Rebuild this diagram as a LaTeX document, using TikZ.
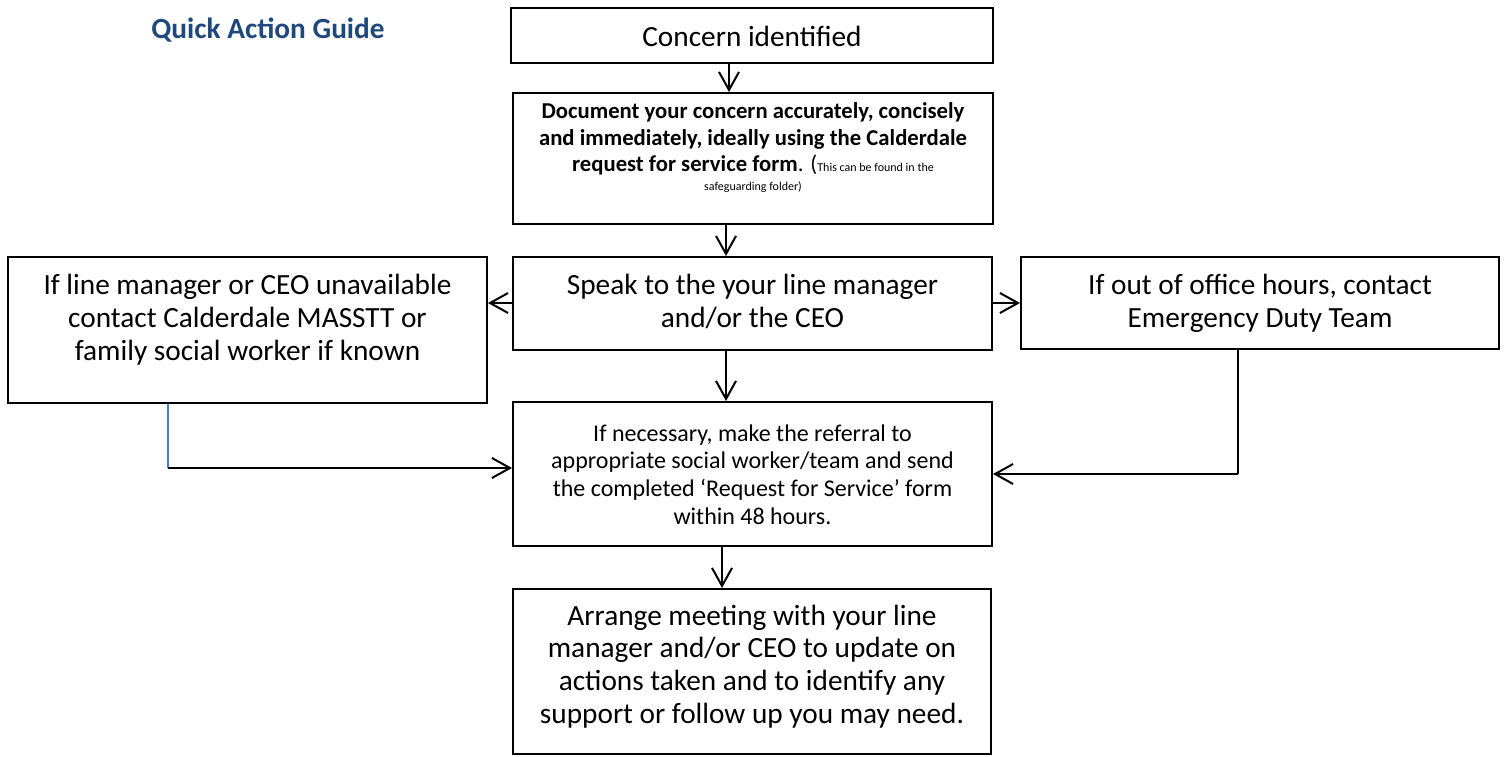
\documentclass[tikz,border=0pt]{standalone}
\usepackage{fontspec}
\setmainfont{Carlito}
\usetikzlibrary{arrows.meta}
\definecolor{titleblue}{RGB}{31,73,125}
\definecolor{linkblue}{RGB}{74,126,187}
\newcommand{\fsBig}{\fontsize{29.3}{32.8}\selectfont}
\newcommand{\fsMid}{\fontsize{24}{27.7}\selectfont}
\newcommand{\fsBold}{\fontsize{22.7}{26.2}\selectfont\bfseries}
\newcommand{\fsSmall}{\fontsize{12}{14.6}\selectfont}
\begin{document}
\begin{tikzpicture}[x=1pt,y=1pt,
  box/.style={draw, line width=2pt, inner sep=0pt},
  txt/.style={inner sep=0pt, anchor=base},
  arr/.style={line width=2pt, -{Straight Barb[length=18pt,width=20pt]}},
  bluelink/.style={line width=1.5pt, draw=linkblue}]
\useasboundingbox (0,0) rectangle (1504,756);
% title
\node[txt, text=titleblue, font=\fsBig\bfseries] (title) at (268,717) {Quick Action Guide};
% boxes
\node[box, minimum width=482pt, minimum height=55pt] (A) at (752,720.5) {};
\node[box, minimum width=480pt, minimum height=131pt] (B) at (753,597.5) {};
\node[box, minimum width=479pt, minimum height=93pt] (C) at (752.5,452.5) {};
\node[box, minimum width=479pt, minimum height=146pt] (L) at (247.5,426) {};
\node[box, minimum width=478pt, minimum height=92pt] (R) at (1260,453) {};
\node[box, minimum width=479pt, minimum height=144pt] (D) at (752.5,282) {};
\node[box, minimum width=478pt, minimum height=165pt] (E) at (752,84.5) {};
% texts
\node[txt] (At) at (752,709) {\fsBig Concern identified};
\node[txt] (Bt) at (753,637) {\fsBold\begin{tabular}[t]{@{}c@{}}
Document your concern accurately, concisely\\
and immediately, ideally using the Calderdale\\
request for service form\textmd{. (}{\fsSmall\mdseries This can be found in the}\\[-7pt]
{\fsSmall\mdseries safeguarding folder)}
\end{tabular}};
\node[txt] (Ct) at (752.5,461) {\fsBig\begin{tabular}[t]{@{}c@{}}
Speak to the your line manager\\
and/or the CEO
\end{tabular}};
\node[txt] (Lt) at (247.5,461) {\fsBig\begin{tabular}[t]{@{}c@{}}
If line manager or CEO unavailable\\
contact Calderdale MASSTT or\\
family social worker if known
\end{tabular}};
\node[txt] (Rt) at (1260,461) {\fsBig\begin{tabular}[t]{@{}c@{}}
If out of office hours, contact\\
Emergency Duty Team
\end{tabular}};
\node[txt] (Dt) at (752.5,315) {\fsMid\begin{tabular}[t]{@{}c@{}}
If necessary, make the referral to\\
appropriate social worker/team and send\\
the completed ‘Request for Service’ form\\
within 48 hours.
\end{tabular}};
\node[txt] (Et) at (752,131) {\fsBig\begin{tabular}[t]{@{}c@{}}
Arrange meeting with your line\\
manager and/or CEO to update on\\
actions taken and to identify any\\
support or follow up you may need.
\end{tabular}};
% helper coordinates
\coordinate (x1) at (729,0);
\coordinate (x2) at (726,0);
\coordinate (x3) at (722,0);
\coordinate (yc) at (0,453);
\coordinate (kl) at (168,288);
\coordinate (kr) at (1238,282);
% connectors
\draw[arr] (A.south -| x1) -- (B.north -| x1);
\draw[arr] (B.south -| x2) -- (C.north -| x2);
\draw[arr] (C.south -| x2) -- (D.north -| x2);
\draw[arr] (D.south -| x3) -- (E.north -| x3);
\draw[arr] (C.west |- yc) -- (L.east |- yc);
\draw[arr] (C.east |- yc) -- (R.west |- yc);
\draw[bluelink] (L.south -| kl) -- (kl);
\draw[arr] (kl) -- (kl -| D.west);
\draw[line width=2pt] (R.south -| kr) -- (kr);
\draw[arr] (kr) -- (kr -| D.east);
\end{tikzpicture}
\end{document}
